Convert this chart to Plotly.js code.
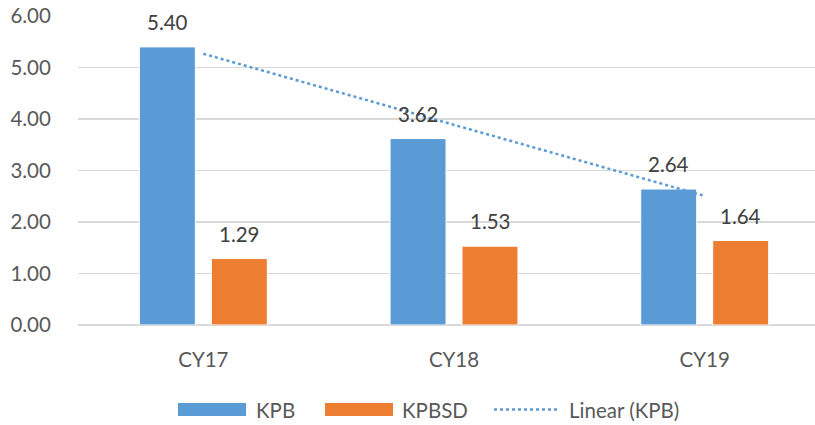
<!DOCTYPE html>
<html>
<head>
<meta charset="utf-8">
<script src="https://cdn.plot.ly/plotly-3.0.1.min.js"></script>
<style>html,body{margin:0;padding:0;background:#fff;}#chart{width:815px;height:425px;}</style>
</head>
<body>
<div id="chart"></div>
<script>
const categories = ["CY17", "CY18", "CY19"];
const kpb = [5.40, 3.62, 2.64];
const kpbsd = [1.29, 1.53, 1.64];
const yTicks = [0, 1, 2, 3, 4, 5, 6];
const seriesNames = ["KPB", "KPBSD", "Linear (KPB)"];

// Linear trendline of KPB (least squares over category index)
const n = kpb.length;
const xs = kpb.map((_, i) => i + 1);
const mx = xs.reduce((a, b) => a + b, 0) / n;
const my = kpb.reduce((a, b) => a + b, 0) / n;
let sxy = 0, sxx = 0;
for (let i = 0; i < n; i++) { sxy += (xs[i] - mx) * (kpb[i] - my); sxx += (xs[i] - mx) ** 2; }
const slope = sxy / sxx;
const trend = xs.map(x => my + slope * (x - mx));

const FONT = "Lato, 'Open Sans', sans-serif";
const FS = 20.5;
const BLUE = "#5b9bd5", ORANGE = "#ed7d31";

const traces = [
  { type: "bar", name: seriesNames[0], x: categories, y: kpb, showlegend: false,
    marker: { color: BLUE, line: { color: "#ffffff", width: 1 } }, hoverinfo: "y" },
  { type: "bar", name: seriesNames[1], x: categories, y: kpbsd, showlegend: false,
    marker: { color: ORANGE, line: { color: "#ffffff", width: 1 } }, hoverinfo: "y" },
  { type: "scatter", mode: "lines", name: seriesNames[2], x: categories, y: trend, showlegend: false,
    line: { color: BLUE, width: 2.5, dash: "dot" }, hoverinfo: "y" }
];

const annotations = [];
categories.forEach((c, i) => {
  annotations.push({ x: c, y: kpb[i], xref: "x", yref: "y", text: kpb[i].toFixed(2),
    showarrow: false, xshift: -36, yshift: 25, yanchor: "middle",
    font: { family: FONT, size: FS, color: "#404040" } });
  annotations.push({ x: c, y: kpbsd[i], xref: "x", yref: "y", text: kpbsd[i].toFixed(2),
    showarrow: false, xshift: 36, yshift: 25, yanchor: "middle",
    font: { family: FONT, size: FS, color: "#404040" } });
});

// Custom legend (pixel -> paper helpers for plot area l=78, width 737, top 16, height 309)
const px = v => (v - 78) / 737;
const py = v => (325 - v) / 309;
const legY = 409.5;
const shapes = [
  { type: "rect", xref: "paper", yref: "paper", x0: px(178), x1: px(246), y0: py(403), y1: py(416),
    fillcolor: BLUE, line: { width: 0 } },
  { type: "rect", xref: "paper", yref: "paper", x0: px(325), x1: px(393), y0: py(403), y1: py(416),
    fillcolor: ORANGE, line: { width: 0 } },
  { type: "line", xref: "paper", yref: "paper", x0: px(494), x1: px(558), y0: py(legY), y1: py(legY),
    line: { color: BLUE, width: 2.5, dash: "dot" } }
];
const legTextX = [254, 400, 567];
seriesNames.forEach((s, i) => {
  annotations.push({ xref: "paper", yref: "paper", x: px(legTextX[i]), y: py(legY), xanchor: "left", yanchor: "middle",
    text: s, showarrow: false, font: { family: FONT, size: FS, color: "#595959" } });
});

const layout = {
  width: 815, height: 425,
  margin: { l: 78, r: 0, t: 16, b: 100, pad: 0 },
  paper_bgcolor: "#ffffff", plot_bgcolor: "#ffffff",
  font: { family: FONT, size: FS, color: "#595959" },
  barmode: "group", bargap: 0.426, bargroupgap: 0.222,
  showlegend: false,
  xaxis: { type: "category", range: [-0.5, 2.44], showgrid: false, showline: false, zeroline: false,
    ticks: "outside", ticklen: 16, tickcolor: "rgba(0,0,0,0)", fixedrange: true },
  yaxis: { range: [0, 6], tickvals: yTicks, ticktext: yTicks.map(v => v.toFixed(2)),
    showgrid: true, gridcolor: "#d9d9d9", gridwidth: 1.3, zeroline: true, zerolinecolor: "#d9d9d9", zerolinewidth: 1.3,
    showline: false, ticks: "outside", ticklen: 22, tickcolor: "rgba(0,0,0,0)", fixedrange: true },
  shapes: shapes,
  annotations: annotations
};

Plotly.newPlot("chart", traces, layout, { displayModeBar: false, staticPlot: true });
</script>
</body>
</html>
